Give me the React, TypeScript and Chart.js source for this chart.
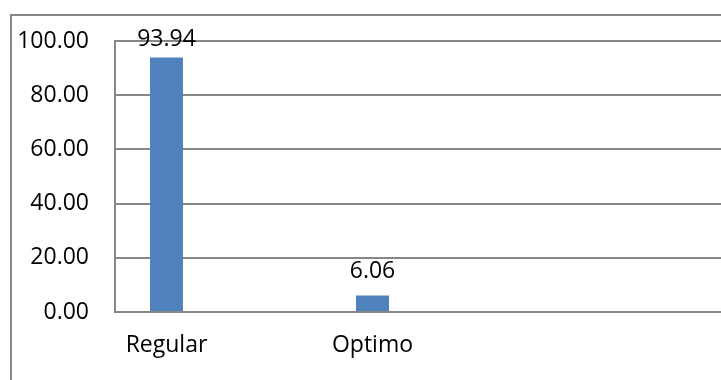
import React, { useEffect, useRef } from "react";
import { Chart, registerables } from "chart.js";

Chart.register(...registerables);

// Categories (blank slots keep the spacing of the source sheet's empty rows)
const categories: string[] = ["Regular", "", "Optimo", "", "", ""];
const values: (number | null)[] = [93.94, null, 6.06, null, null, null];
const yMin = 0;
const yMax = 100;
const yStep = 20;

const FONT = "'Open Sans', sans-serif";
const GRID = "#878787";
const BAR = "#4F81BD";

// Draws the value above each bar, kept just inside the top of the plot
const valueLabels = {
  id: "valueLabels",
  afterDatasetsDraw(chart: any) {
    const { ctx, chartArea } = chart;
    const meta = chart.getDatasetMeta(0);
    ctx.save();
    ctx.font = `23px ${FONT}`;
    ctx.fillStyle = "#000";
    ctx.textAlign = "center";
    ctx.textBaseline = "alphabetic";
    meta.data.forEach((bar: any, i: number) => {
      const v = values[i];
      if (v == null) return;
      const y = Math.max(bar.y - 18, chartArea.top + 5);
      ctx.fillText(v.toFixed(2), bar.x, y);
    });
    ctx.restore();
  },
};

// Outer frame of the chart (its top and left edges)
const frame = {
  id: "frame",
  beforeDraw(chart: any) {
    const { ctx } = chart;
    ctx.save();
    ctx.strokeStyle = GRID;
    ctx.lineWidth = 2;
    ctx.beginPath();
    ctx.moveTo(11, chart.height + 10);
    ctx.lineTo(11, 15);
    ctx.lineTo(chart.width + 10, 15);
    ctx.stroke();
    ctx.restore();
  },
};

export default function App() {
  const ref = useRef<HTMLCanvasElement | null>(null);

  useEffect(() => {
    if (!ref.current) return;
    const chart = new Chart(ref.current, {
      type: "bar",
      data: {
        labels: categories,
        datasets: [
          {
            data: values,
            backgroundColor: BAR,
            borderWidth: 0,
            categoryPercentage: 1,
            barPercentage: 0.32,
          },
        ],
      },
      options: {
        responsive: false,
        animation: false,
        layout: { padding: { top: 41, left: 0, right: 0, bottom: 0 } },
        plugins: {
          legend: { display: false },
          tooltip: { enabled: false },
          title: { display: false },
        },
        scales: {
          x: {
            grid: { display: false, drawTicks: false },
            border: { display: true, color: GRID, width: 2 },
            ticks: {
              autoSkip: false,
              maxRotation: 0,
              minRotation: 0,
              padding: 20,
              color: "#000",
              font: { family: FONT, size: 23 },
            },
            afterFit: (scale: any) => {
              scale.height = 68;
            },
          },
          y: {
            min: yMin,
            max: yMax,
            grid: { color: GRID, lineWidth: 2, drawTicks: false },
            border: { display: true, color: GRID, width: 2 },
            ticks: {
              stepSize: yStep,
              padding: 26,
              color: "#000",
              font: { family: FONT, size: 23 },
              callback: (v: any) => Number(v).toFixed(2),
            },
            afterFit: (scale: any) => {
              scale.width = 115;
            },
          },
        },
      },
      plugins: [frame, valueLabels],
    });
    return () => chart.destroy();
  }, []);

  // The plot runs a little past the right edge of the visible area
  return (
    <div
      style={{
        position: "fixed",
        left: 0,
        top: 0,
        width: 721,
        height: 380,
        overflow: "hidden",
        background: "#fff",
      }}
    >
      <canvas
        ref={ref}
        width={733}
        height={380}
        style={{ display: "block", position: "absolute", left: 0, top: 0 }}
      />
    </div>
  );
}
